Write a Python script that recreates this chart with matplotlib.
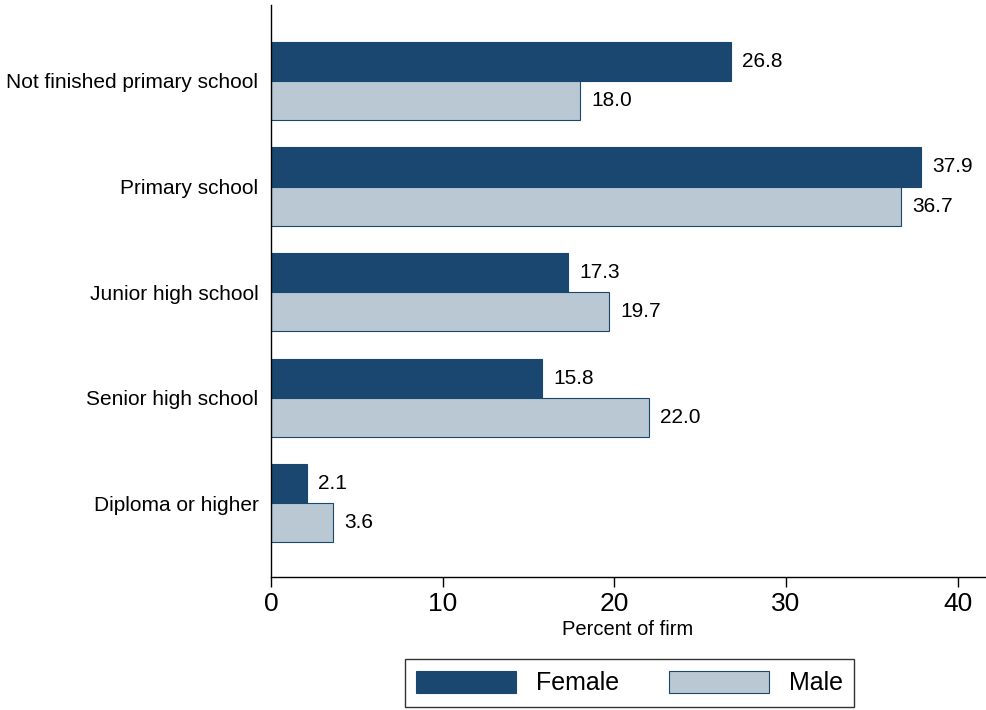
import matplotlib
matplotlib.use("Agg")
import matplotlib.pyplot as plt
import numpy as np

categories = ["Not finished primary school", "Primary school", "Junior high school",
              "Senior high school", "Diploma or higher"]
female = [26.8, 37.9, 17.3, 15.8, 2.1]
male = [18.0, 36.7, 19.7, 22.0, 3.6]
xticks = [0, 10, 20, 30, 40]

navy = "#1a476f"
light = "#bac8d3"

plt.rcParams['font.family'] = ['Liberation Sans', 'DejaVu Sans']

fig = plt.figure(figsize=(9.87, 7.10), dpi=100)
ax = fig.add_axes([271/987, 133/710, 714/987, 572/710])

y = np.arange(len(categories))
h = 0.37
bf = ax.barh(y - h/2, female, height=h, color=navy, edgecolor=navy, linewidth=0.8, label="Female")
bm = ax.barh(y + h/2, male, height=h, color=light, edgecolor=navy, linewidth=0.8, label="Male")

for bars, vals in ((bf, female), (bm, male)):
    for b, v in zip(bars, vals):
        ax.annotate(f"{v:.1f}", xy=(b.get_width(), b.get_y() + b.get_height()/2),
                    xytext=(8, 0), textcoords="offset points", va="center", ha="left",
                    fontsize=15, color="black")

ax.set_ylim(4.70, -0.72)
ax.set_xlim(0, 41.6)
ax.set_yticks(y)
ax.set_yticklabels(categories, fontsize=15)
ax.tick_params(axis='y', length=0, pad=9)
ax.set_xticks(xticks)
ax.set_xticklabels([str(t) for t in xticks], fontsize=19)
ax.tick_params(axis='x', length=7, width=1, pad=4, direction='out')
ax.set_xlabel("Percent of firm", fontsize=14.5, labelpad=3)

for s in ("top", "right"):
    ax.spines[s].set_visible(False)
for s in ("left", "bottom"):
    ax.spines[s].set_linewidth(1)

leg = fig.legend(handles=[bf, bm], labels=["Female", "Male"], loc="center",
                 bbox_to_anchor=(629.5/987, 27/710), ncol=2, frameon=True, fancybox=False,
                 edgecolor="black", fontsize=18, handlelength=4.0, handleheight=1.0,
                 columnspacing=2.0, handletextpad=0.8, borderpad=0.45)
leg.get_frame().set_linewidth(1)

fig.savefig("out.png", dpi=100, facecolor="white")
